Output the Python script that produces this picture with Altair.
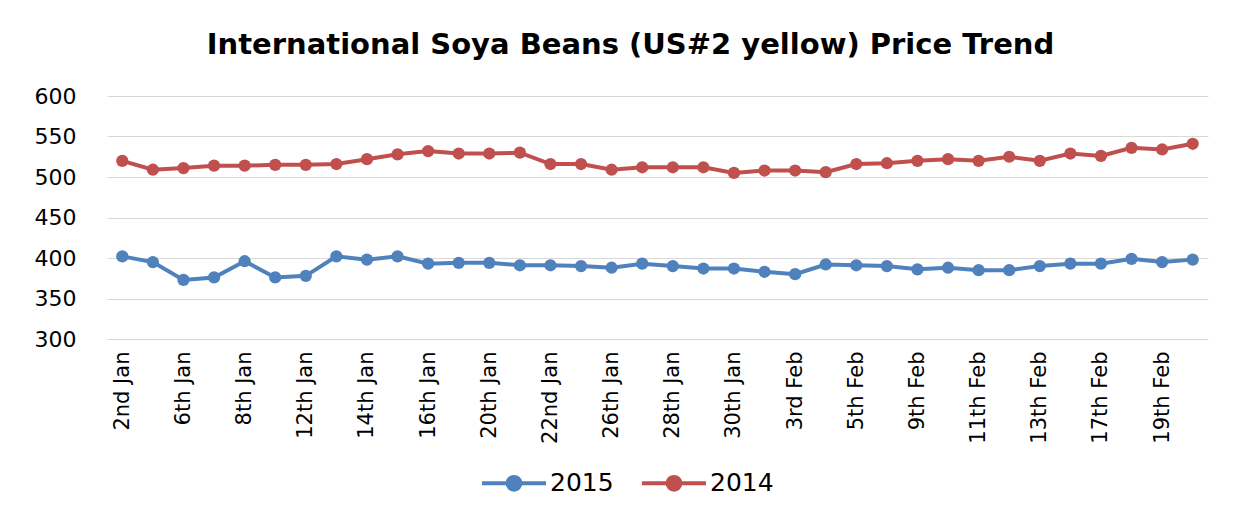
import altair as alt
import pandas as pd

dates = ["2nd Jan", "5th Jan", "6th Jan", "7th Jan", "8th Jan", "9th Jan",
         "12th Jan", "13th Jan", "14th Jan", "15th Jan", "16th Jan", "19th Jan",
         "20th Jan", "21st Jan", "22nd Jan", "23rd Jan", "26th Jan", "27th Jan",
         "28th Jan", "29th Jan", "30th Jan", "2nd Feb", "3rd Feb", "4th Feb",
         "5th Feb", "6th Feb", "9th Feb", "10th Feb", "11th Feb", "12th Feb",
         "13th Feb", "16th Feb", "17th Feb", "18th Feb", "19th Feb", "20th Feb"]

tick_labels = ["2nd Jan", "6th Jan", "8th Jan", "12th Jan", "14th Jan", "16th Jan",
               "20th Jan", "22nd Jan", "26th Jan", "28th Jan", "30th Jan", "3rd Feb",
               "5th Feb", "9th Feb", "11th Feb", "13th Feb", "17th Feb", "19th Feb"]

series_2015 = [402, 395, 373, 376, 396, 376, 378, 402, 398, 402, 393, 394,
               394, 391, 391, 390, 388, 393, 390, 387, 387, 383, 380, 392,
               391, 390, 386, 388, 385, 385, 390, 393, 393, 399, 395, 398]

series_2014 = [520, 509, 511, 514, 514, 515, 515, 516, 522, 528, 532, 529,
               529, 530, 516, 516, 509, 512, 512, 512, 505, 508, 508, 506,
               516, 517, 520, 522, 520, 525, 520, 529, 526, 536, 534, 541]

series_names = ["2015", "2014"]
series_colors = ["#4F81BD", "#C0504D"]
y_ticks = [300, 350, 400, 450, 500, 550, 600]

rows = []
for name, vals in zip(series_names, [series_2015, series_2014]):
    for d, v in zip(dates, vals):
        rows.append({"Date": d, "Series": name, "Price": v})
df = pd.DataFrame(rows)

legend_symbol = "M-1,0L1,0M-0.2,0A0.2,0.2 0 1,1 0.2,0A0.2,0.2 0 1,1 -0.2,0Z"

x = alt.X("Date:N", sort=dates, title=None,
          scale=alt.Scale(type="point", padding=0.5),
          axis=alt.Axis(values=tick_labels, labelAngle=-90, labelFont="DejaVu Sans",
                        labelFontSize=21, labelColor="#000000", ticks=False,
                        domain=False, grid=False, labelPadding=12,
                        labelAlign="right", labelBaseline="middle"))
y = alt.Y("Price:Q", title=None,
          scale=alt.Scale(domain=[300, 600], nice=False, zero=False),
          axis=alt.Axis(values=y_ticks, labelFont="DejaVu Sans", labelFontSize=22,
                        labelColor="#000000", ticks=False, domain=False,
                        grid=True, gridColor="#D9D9D9", gridWidth=1,
                        labelPadding=31))
color = alt.Color("Series:N", sort=series_names,
                  scale=alt.Scale(domain=series_names, range=series_colors),
                  legend=alt.Legend(title=None, orient="none", legendX=373, legendY=353,
                                    direction="horizontal", symbolType=legend_symbol,
                                    symbolSize=4096, symbolStrokeWidth=4,
                                    labelFont="DejaVu Sans", labelFontSize=25,
                                    labelColor="#000000", labelOffset=2,
                                    columnPadding=20, padding=0))

base = alt.Chart(df).encode(x=x, y=y, color=color)
line = base.mark_line(strokeWidth=4)
pts = base.mark_point(filled=True, size=150, opacity=1)

chart = alt.layer(line, pts).properties(
    width=1101, height=243,
    title=alt.TitleParams("International Soya Beans (US#2 yellow) Price Trend",
                          font="DejaVu Sans", fontSize=29, fontWeight="bold",
                          color="#000000", anchor="middle", dx=-27, offset=2,
                          baseline="alphabetic"),
    autosize=alt.AutoSizeParams(type="none"),
    padding={"left": 99, "top": 88, "right": 22, "bottom": 164},
).configure(background="white").configure_view(stroke=None, strokeWidth=0)

chart.save("out.html", embed_options={"renderer": "svg", "actions": False})
